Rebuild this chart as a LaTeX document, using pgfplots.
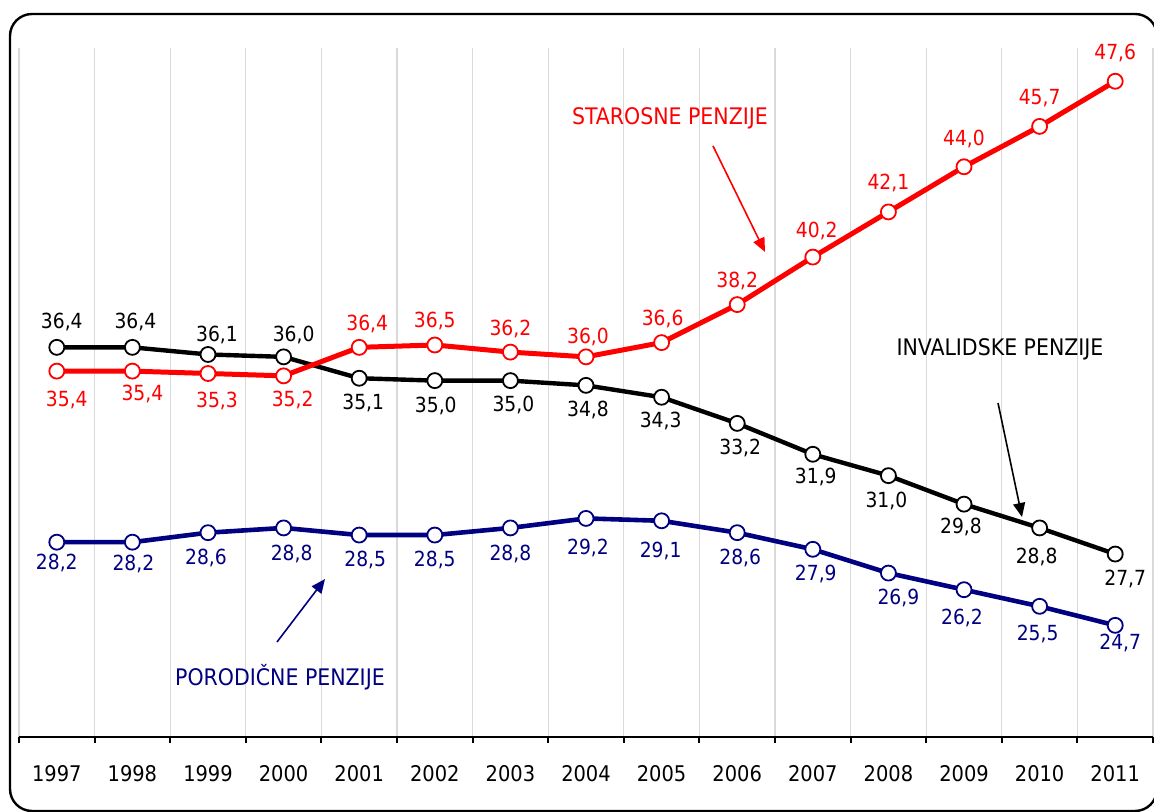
\documentclass[border=0pt]{standalone}
\usepackage{fontspec}
\setmainfont{DejaVu Sans Condensed}
\usepackage{pgfplots}
\pgfplotsset{compat=1.18}
\usetikzlibrary{arrows.meta}
\definecolor{navy}{RGB}{0,0,128}
\definecolor{gridgray}{RGB}{217,217,217}
\newcommand{\lab}{\fontsize{10.4}{12}\selectfont}
\newcommand{\ann}{\fontsize{11.4}{13}\selectfont}
\newcommand{\yr}{\fontsize{10.8}{13}\selectfont}

\pgfplotstableread{
x y dx dy lab
0 36.4 2.5 12.5 36,4
1 36.4 1.5 12.5 36,4
2 36.1 4.5 9.5 36,1
3 36.0 5 11 36,0
4 35.1 2 -12.5 35,1
5 35.0 0.5 -12.5 35,0
6 35.0 1.5 -12 35,0
7 34.8 1 -12.5 34,8
8 34.3 -0.5 -12 34,3
9 33.2 1.5 -12.5 33,2
10 31.9 1.5 -11.5 31,9
11 31.0 -1 -12.5 31,0
12 29.8 -1.5 -11.5 29,8
13 28.8 -1.5 -14.5 28,8
14 27.7 5 -12.5 27,7
}\invalid

\pgfplotstableread{
x y dx dy lab
0 35.4 5 -14.5 35,4
1 35.4 5 -11.5 35,4
2 35.3 4.5 -14 35,3
3 35.2 4.5 -12 35,2
4 36.4 4 11.5 36,4
5 36.5 0 12 36,5
6 36.2 0 11.5 36,2
7 36.0 1 10 36,0
8 36.6 0.5 12 36,6
9 38.2 0 12 38,2
10 40.2 2 13 40,2
11 42.1 0 14.5 42,1
12 44.0 0 14 44,0
13 45.7 0 14 45,7
14 47.6 0 14 47,6
}\starosne

\pgfplotstableread{
x y dx dy lab
0 28.2 0 -10.5 28,2
1 28.2 0.5 -11 28,2
2 28.6 -1 -12.5 28,6
3 28.8 4 -13 28,8
4 28.5 3 -12.5 28,5
5 28.5 0 -12.5 28,5
6 28.8 0 -13 28,8
7 29.2 1 -15 29,2
8 29.1 -0.5 -15 29,1
9 28.6 1.5 -12.5 28,6
10 27.9 1.5 -12.5 27,9
11 26.9 5 -12.5 26,9
12 26.2 -1 -14 26,2
13 25.5 -1 -14 25,5
14 24.7 2.5 -9 24,7
}\porodicne

\pgfplotsset{
  labelled/.style={
    mark=*, mark size=3.75pt,
    nodes near coords, point meta=explicit symbolic,
    visualization depends on={\thisrow{dx}\as\dx},
    visualization depends on={\thisrow{dy}\as\dy},
    every node near coord/.append style={anchor=center, xshift=\dx pt, yshift=\dy pt, font=\lab, inner sep=0pt},
  },
}

\begin{document}
\begin{tikzpicture}
\draw[line width=1.2pt, rounded corners=11pt] (5pt,0.5pt) rectangle (578.5pt,399pt);
\begin{axis}[
  at={(9.5pt,37.5pt)}, anchor=south west,
  scale only axis, width=567pt, height=344.5pt,
  xmin=-0.5, xmax=14.5, ymin=20, ymax=49,
  axis x line*=bottom, axis y line=none,
  xtick={0,...,14},
  xticklabels={1997,1998,1999,2000,2001,2002,2003,2004,2005,2006,2007,2008,2009,2010,2011},
  major tick length=0pt,
  minor xtick={-0.5,0.5,...,14.5},
  xminorgrids, minor grid style={gridgray, line width=0.6pt},
  tick align=outside, minor tick length=3pt,
  minor x tick style={black, line width=1pt},
  x axis line style={line width=1pt},
  xticklabel style={anchor=base, yshift=-22pt, font=\yr},
  clip=false,
]
\addplot[black, line width=2.2pt, labelled, mark options={fill=white, line width=0.9pt},
  every node near coord/.append style={text=black}]
  table[x=x, y=y, meta=lab] {\invalid};
\addplot[red, line width=2.5pt, labelled, mark options={fill=white, line width=0.9pt},
  every node near coord/.append style={text=red}]
  table[x=x, y=y, meta=lab] {\starosne};
\addplot[navy, line width=2.3pt, labelled, mark options={fill=white, line width=0.9pt},
  every node near coord/.append style={text=navy}]
  table[x=x, y=y, meta=lab] {\porodicne};
\end{axis}
% oznake serija
\node[red, font=\ann] at (335pt,347pt) {STAROSNE PENZIJE};
\draw[red, line width=0.8pt, -{Triangle[length=7pt,width=6pt]}] (356.5pt,333pt) -- (382.5pt,280pt);
\node[black, font=\ann] at (500pt,231.5pt) {INVALIDSKE PENZIJE};
\draw[black, line width=0.8pt, -{Triangle[length=7pt,width=6pt]}] (499pt,204.5pt) -- (511pt,147.5pt);
\node[navy, font=\ann] at (140pt,67.5pt) {PORODIČNE PENZIJE};
\draw[navy, line width=0.8pt, -{Triangle[length=7pt,width=6pt]}] (138.5pt,85pt) -- (162.5pt,116.5pt);
\pgfresetboundingbox
\path[use as bounding box] (0,0) rectangle (577pt,406pt);
\end{tikzpicture}
\end{document}
